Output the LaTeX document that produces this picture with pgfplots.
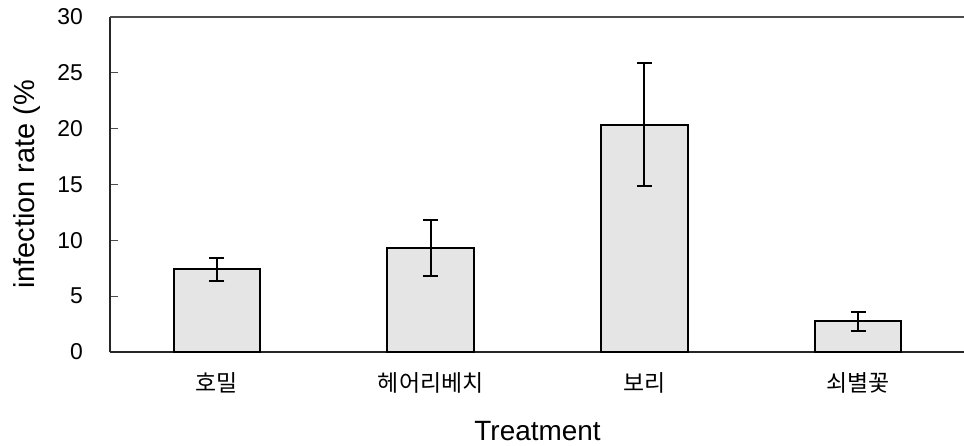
\documentclass[border=0pt]{standalone}
\usepackage{pgfplots}
\pgfplotsset{compat=1.18}
\usepackage{fontspec}
\setmainfont{Liberation Sans}
\newfontfamily\kr{Noto Sans CJK KR}
\pgfplotstableread{
x y e
0 7.4 1.05
1 9.3 2.5
2 20.35 5.5
3 2.75 0.87
}\datatable
\begin{document}
\begin{tikzpicture}
\useasboundingbox (0,0) rectangle (964bp,446bp);
\begin{axis}[
  at={(110bp,94bp)}, anchor=south west,
  scale only axis, width=855bp, height=335bp,
  xmin=-0.5, xmax=3.5, ymin=0, ymax=30,
  axis lines=left, axis line style={-, line width=1.2bp, black!85},
  ytick={0,5,...,30},
  tick align=inside,
  major tick length=8bp,
  ytick style={line width=0.9bp, black!70},
  xtick={0,1,2,3},
  xticklabels={호밀,헤어리베치,보리,쇠별꽃},
  xtick style={draw=none},
  extra x ticks={0.5,1.5,2.5},
  extra x tick labels={},
  extra x tick style={major tick length=7bp, tick style={draw=black!60, line width=0.9bp}},
  xticklabel style={font=\kr\fontsize{23}{23}\selectfont, anchor=center, yshift=-31bp, inner sep=0pt},
  yticklabel style={font=\fontsize{23}{23}\selectfont, anchor=east, inner sep=0pt, xshift=-27bp},
  /pgf/number format/assume math mode=true,
  ylabel={infection rate (\%},
  ylabel style={font=\fontsize{29}{29}\selectfont, at={(axis description cs:-0.0975,0.5)}, anchor=center, inner sep=0pt},
  xlabel={Treatment},
  xlabel style={font=\fontsize{28}{28}\selectfont, at={(axis description cs:0.5,-0.235)}, anchor=center, inner sep=0pt},
  clip=false,
]
\addplot[ybar, bar width=0.405, fill=black!10, draw=black, line width=2bp,
  error bars/.cd, y dir=both, y explicit,
  error bar style={line width=1.9bp, black},
  error mark options={line width=1.9bp, mark size=7.5bp, rotate=90, black}]
  table[x=x, y=y, y error=e] {\datatable};
\draw[line width=1.2bp, black!70] (rel axis cs:0,1) -- (rel axis cs:1,1);
\end{axis}
\end{tikzpicture}
\end{document}
